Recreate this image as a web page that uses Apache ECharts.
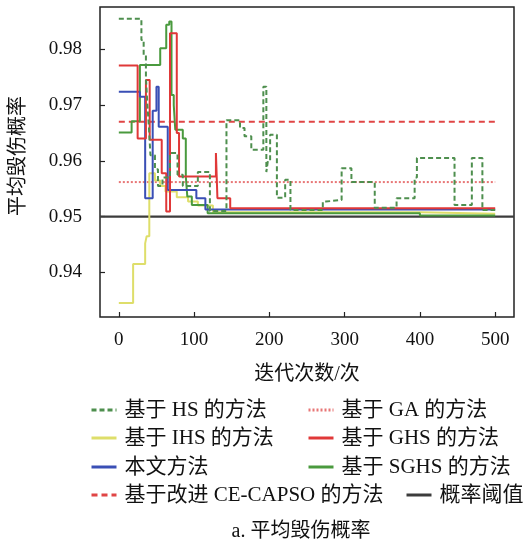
<!DOCTYPE html>
<html>
<head>
<meta charset="utf-8">
<script src="https://cdn.jsdelivr.net/npm/echarts@6/dist/echarts.min.js"></script>
<style>html,body{margin:0;padding:0;background:#fff;}#c{width:523px;height:544px;}</style>
</head>
<body>
<div id="c"></div>
<script>
// ---- data ----
const xTicks = [0, 100, 200, 300, 400, 500];
const yTicks = [0.94, 0.95, 0.96, 0.97, 0.98];

const hsX = [0,30,33,36,38,40,42,48,52,58,68,78,85,105,121,143,161,167,176,192,196,198,201,210,221,228,271,275,296,309,340,369,393,396,446,469,483,500];
const hsY = [0.9855,0.9817,0.9790,0.9750,0.9700,0.9660,0.9610,0.9585,0.9555,0.9570,0.9614,0.9575,0.9555,0.9580,0.9510,0.9673,0.9659,0.9644,0.9620,0.9733,0.9580,0.9600,0.9647,0.9534,0.9566,0.9512,0.9527,0.9530,0.9587,0.9562,0.9516,0.9533,0.9570,0.9605,0.9521,0.9605,0.9512,0.9512];

const ihsX = [0,19,35,37,40.5,48,55,62,77,92,105,125,400,500];
const ihsY = [0.9345,0.9415,0.9452,0.9465,0.9578,0.9565,0.9555,0.9545,0.9535,0.9527,0.9520,0.9508,0.9505,0.9505];

const ghsX = [0,25,36,41,57,63,68,77,80,129,131,148,500];
const ghsY = [0.9771,0.9640,0.9745,0.9638,0.9578,0.9509,0.9829,0.9650,0.9572,0.9614,0.9533,0.9515,0.9515];

const oursX = [0,28,35,45,50,53,65,103,115,500];
const oursY = [0.9724,0.9715,0.9533,0.9690,0.9733,0.9661,0.9548,0.9533,0.9513,0.9513];

const sghsX = [0,17,28,55,63,67,70,73,75,85,89,91,97,118,400,500];
const sghsY = [0.9651,0.9671,0.9772,0.9802,0.9844,0.9850,0.9718,0.9700,0.9656,0.9640,0.9572,0.9536,0.9521,0.9506,0.9502,0.9502];

const gaX = [0,500];
const gaY = [0.9562,0.9562];
const ceX = [0,500];
const ceY = [0.967,0.967];
const thX = [-25,525];
const thY = [0.95,0.95];

const names = ['基于 HS 的方法','基于 GA 的方法','基于 IHS 的方法','基于 GHS 的方法','本文方法','基于 SGHS 的方法','基于改进 CE-CAPSO 的方法','概率阈值'];

// ---- build ----
const zip = (xs, ys) => xs.map((x, i) => [x, ys[i]]);
const FONT = "'Liberation Serif','Noto Sans CJK SC',serif";

function line(name, xs, ys, color, type, width, z) {
  return {
    name, type:'line', step:'end', data: zip(xs, ys), symbol:'none', showSymbol:false, z: z,
    lineStyle:{color, type, width}, itemStyle:{color}
  };
}

const series = [
  line(names[1], gaX, gaY, '#e87676', [2,2], 2, 2),
  line(names[6], ceX, ceY, '#e04545', [6,4], 2, 2),
  line(names[7], thX, thY, '#3c3c3c', 'solid', 2.2, 3),
  line(names[2], ihsX, ihsY, '#dede6a', 'solid', 2, 4),
  line(names[5], sghsX, sghsY, '#4a9a3e', 'solid', 2, 5),
  line(names[4], oursX, oursY, '#3a4fb5', 'solid', 2, 6),
  line(names[3], ghsX, ghsY, '#e03838', 'solid', 2, 7),
  line(names[0], hsX, hsY, '#4e8f4e', [5,3], 2, 8)
];

const legendPos = [[90,410],[307,410],[90,438],[307,438],[90,467],[307,467],[90,495],[405,495]];
const legends = names.map((n, i) => ({
  data:[n], left: legendPos[i][0], top: legendPos[i][1] - 11, padding:0,
  itemWidth:25, itemHeight:14, itemGap:0, selectedMode:false,
  itemStyle:{opacity:0},
  lineStyle:{width:3},
  textStyle:{fontSize:21, fontFamily:FONT, color:'#111', padding:[0,0,0,3], lineHeight:22}
}));

const chart = echarts.init(document.getElementById('c'), null, {renderer:'canvas'});
chart.setOption({
  animation:false,
  backgroundColor:'#fff',
  grid:{left:100, top:7, width:414, height:310, show:true, borderColor:'#222', borderWidth:1.5},
  xAxis:{
    type:'value', min:-25, max:525,
    splitLine:{show:false}, axisLine:{show:false, onZero:false},
    axisTick:{show:true, inside:true, length:5, customValues:xTicks, lineStyle:{color:'#222', width:1.2}},
    axisLabel:{customValues:xTicks, margin:14, fontSize:19, fontFamily:'Liberation Serif', color:'#111'}
  },
  yAxis:{
    type:'value', min:0.932, max:0.9876,
    splitLine:{show:false}, axisLine:{show:false, onZero:false},
    axisTick:{show:true, inside:true, length:5, customValues:yTicks, lineStyle:{color:'#222', width:1.2}},
    axisLabel:{customValues:yTicks, margin:18, fontSize:19, fontFamily:'Liberation Serif', color:'#111',
      formatter: v => Number(v).toFixed(2)}
  },
  legend: legends,
  series,
  graphic:[
    {type:'text', x:307, y:375, style:{text:'迭代次数/次', font:'20px '+FONT, fill:'#111', align:'center', verticalAlign:'middle'}},
    {type:'text', x:19, y:156, rotation:Math.PI/2, style:{text:'平均毁伤概率', font:'20px '+FONT, fill:'#111', align:'center', verticalAlign:'middle'}},
    {type:'text', x:301, y:532, style:{text:'a. 平均毁伤概率', font:'20px '+FONT, fill:'#111', align:'center', verticalAlign:'middle'}}
  ]
});
</script>
</body>
</html>
